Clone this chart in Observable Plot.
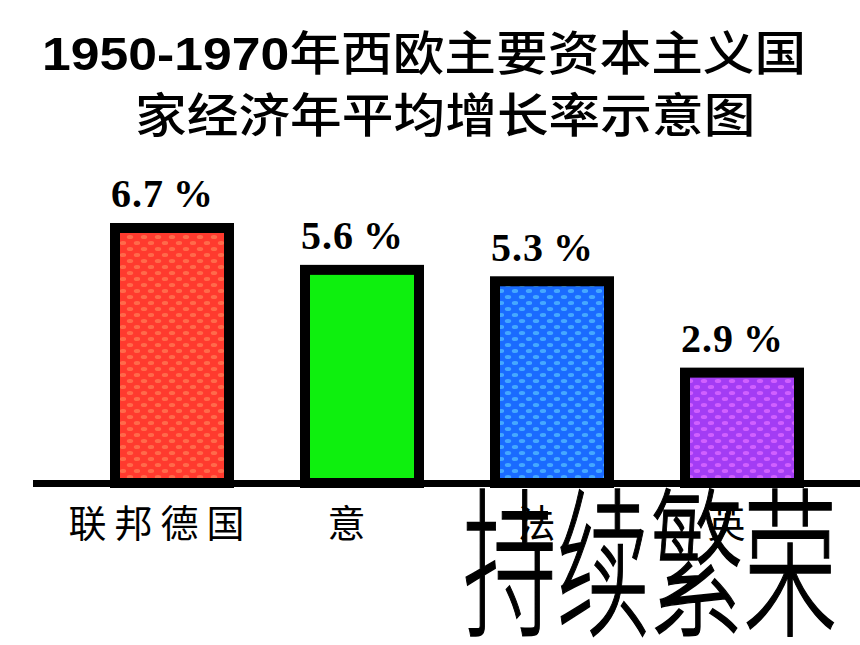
<!DOCTYPE html>
<html>
<head>
<meta charset="utf-8">
<script src="https://cdn.jsdelivr.net/npm/d3@7"></script>
<script src="https://cdn.jsdelivr.net/npm/@observablehq/plot@0.6"></script>
<style>
  html, body { margin: 0; padding: 0; background: #fff; }
  body { width: 860px; height: 645px; overflow: hidden; position: relative; }
  .title-line {
    position: absolute; white-space: nowrap; line-height: 47px;
    font-family: "Noto Sans CJK SC", sans-serif; font-size: 47px; font-weight: 500;
    color: #000; transform-origin: 0 0; transform: scaleX(1.1);
  }
  .title-line .num { font-family: "Liberation Sans", Arial, sans-serif; font-weight: 700; }
  #line1 { left: 42px; top: 26px; }
  #line2 { left: 135px; top: 88px; }
  #chart { position: absolute; left: 0; top: 150px; }
  #slogan {
    position: absolute; left: 463px; top: 473px; white-space: nowrap;
    font-family: "Noto Sans CJK SC", sans-serif; font-size: 94px; font-weight: 300;
    -webkit-text-stroke: 0.9px #000;
    line-height: 94px; color: #000; transform-origin: 0 0; transform: scale(0.995, 1.715);
  }
</style>
</head>
<body>
<div id="line1" class="title-line"><span class="num">1950-1970</span>年西欧主要资本主义国</div>
<div id="line2" class="title-line">家经济年平均增长率示意图</div>
<div id="chart"></div>
<div id="slogan">持续繁荣</div>
<script>
// Average annual economic growth, 1950–1970
const countries = ["联邦德国", "意", "法", "英"];
const growth = [6.7, 5.6, 5.3, 2.9];
const barColors = ["#ff3a2e", "#0ef00e", "#1a6bff", "#a33cf4"];
const dotColors = ["#ff6a4a", "#3cff3c", "#45a8ff", "#d060ff"];

const rows = countries.map((country, i) => ({
  country, value: growth[i], color: barColors[i], dot: dotColors[i]
}));

const chart = Plot.plot({
  width: 860,
  height: 495,
  marginLeft: 33,
  marginRight: 0,
  marginTop: 0,
  marginBottom: 0,
  x: { domain: countries, range: [95, 818], paddingInner: 0.4, paddingOuter: 0.1, axis: null },
  y: { domain: [0, 8], range: [333, 333 - 8 * 38.06], axis: null },
  color: { type: "identity" },
  marks: [
    Plot.barY(rows, { x: "country", y: "value", fill: "color", stroke: "#000", strokeWidth: 10 }),
    Plot.ruleY([0], { stroke: "#000", strokeWidth: 7 }),
    Plot.text(rows, {
      x: "country", y: "value", text: d => d.value.toFixed(1) + "\u2009%",
      dy: -21, dx: -10, lineAnchor: "bottom",
      fontFamily: "Liberation Serif, Times New Roman, serif", fontWeight: "bold", fontSize: 40, fill: "#000"
    }),
    Plot.text(rows, {
      x: "country", y: 0, text: "country", dy: 41, dx: -12,
      fontFamily: "Noto Sans CJK SC, sans-serif", fontSize: 38, fill: "#000"
    })
  ]
});

const svg = d3.select(chart);
// Letter spacing for the value and category labels
const textGroups = svg.selectAll('g[aria-label="text"]').nodes();
d3.select(textGroups[0]).selectAll("text").style("letter-spacing", "1px");
d3.select(textGroups[1]).selectAll("text").style("letter-spacing", "8px");

// Dotted textures for the bar fills
const defs = svg.insert("defs", ":first-child");
rows.forEach((r, i) => {
  const p = defs.append("pattern")
    .attr("id", "tex" + i).attr("patternUnits", "userSpaceOnUse")
    .attr("width", 14).attr("height", 12);
  p.append("rect").attr("width", 14).attr("height", 12).attr("fill", r.color);
  if (i !== 1) {
    p.append("ellipse").attr("cx", 4).attr("cy", 3).attr("rx", 3.2).attr("ry", 2).attr("fill", r.dot);
    p.append("ellipse").attr("cx", 11).attr("cy", 9).attr("rx", 3.2).attr("ry", 2).attr("fill", r.dot);
  }
});
svg.select('g[aria-label="bar"]').selectAll("rect").attr("fill", (d, j) => `url(#tex${j})`);

document.getElementById("chart").appendChild(chart);
</script>
</body>
</html>
